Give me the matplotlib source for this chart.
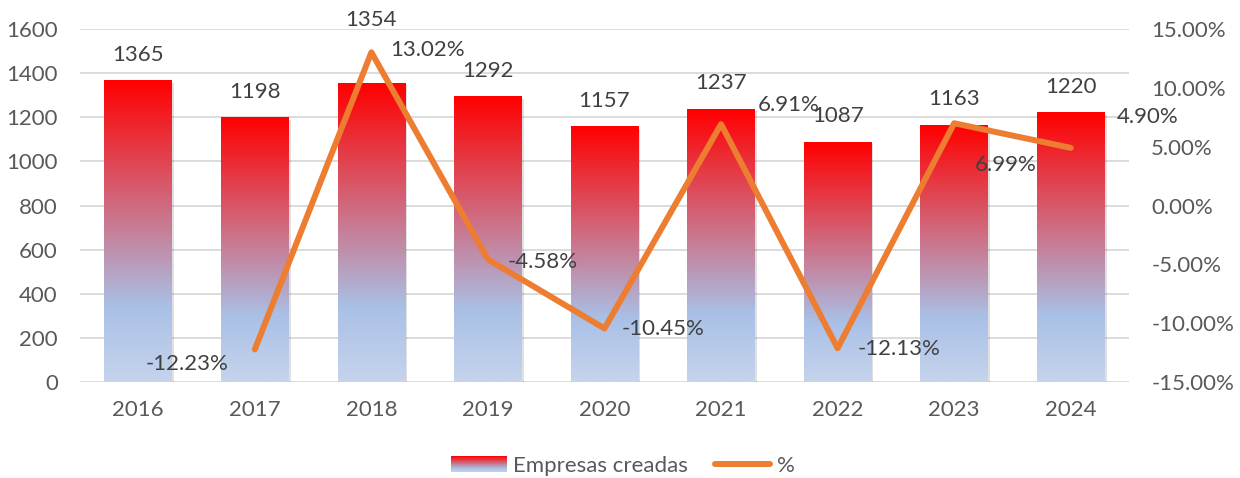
import numpy as np
import matplotlib
matplotlib.use("Agg")
import matplotlib.pyplot as plt
from matplotlib.patches import Rectangle
from matplotlib.lines import Line2D
from matplotlib.legend_handler import HandlerBase
from matplotlib.colors import LinearSegmentedColormap
import matplotlib.transforms as mtransforms

years = ["2016", "2017", "2018", "2019", "2020", "2021", "2022", "2023", "2024"]
empresas = [1365, 1198, 1354, 1292, 1157, 1237, 1087, 1163, 1220]
pct_years = ["2017", "2018", "2019", "2020", "2021", "2022", "2023", "2024"]
pct = [-12.23, 13.02, -4.58, -10.45, 6.91, -12.13, 6.99, 4.90]
left_ticks = [0, 200, 400, 600, 800, 1000, 1200, 1400, 1600]
right_ticks = [-15, -10, -5, 0, 5, 10, 15]

plt.rcParams['font.family'] = ['Lato', 'DejaVu Sans']
FS = 16

# gradient (top -> bottom)
grad_cmap = LinearSegmentedColormap.from_list(
    "g", [(0.0, "#FF0000"), (0.75, "#A9C0E6"), (1.0, "#C6D4EC")])

fig = plt.figure(figsize=(12.4, 4.78), dpi=100)
ax = fig.add_axes([80/1240, 1-382/478, (1129-80)/1240, (382-29)/478])
x = np.arange(len(years))
bw = 0.58

bars = ax.bar(x, empresas, width=bw, facecolor="none", edgecolor="none", zorder=2)
shadow_tr = mtransforms.offset_copy(ax.transData, fig=fig, x=2, y=-2, units="dots")
grad = np.linspace(0, 1, 256).reshape(-1, 1)
for b in bars:
    x0, w, h = b.get_x(), b.get_width(), b.get_height()
    ax.add_patch(Rectangle((x0, 0), w, h, facecolor="#000000", alpha=0.12,
                           edgecolor="none", transform=shadow_tr, zorder=1.5))
    ax.imshow(grad, cmap=grad_cmap, extent=[x0, x0 + w, 0, h], aspect="auto",
              origin="upper", zorder=2, interpolation="bilinear")

ax.set_xlim(-0.5, len(years) - 0.5)
ax.set_ylim(0, 1600)
ax.set_yticks(left_ticks)
ax.set_xticks(x)
ax.set_xticklabels(years)
ax.grid(axis="y", color="#D9D9D9", linewidth=1.3, zorder=0)
ax.set_axisbelow(True)
for s in ax.spines.values():
    s.set_visible(False)
ax.tick_params(axis="both", length=0, labelsize=FS, labelcolor="#595959")
ax.tick_params(axis="y", pad=16)
ax.tick_params(axis="x", pad=13)

bar_label_offsets = [26, 26, 63, 26, 26, 26, 26, 26, 26]
for xi, v, off in zip(x, empresas, bar_label_offsets):
    ax.annotate(f"{v}", (xi, v), xytext=(0, off), textcoords="offset pixels",
                ha="center", va="center", fontsize=FS, color="#404040")

ax2 = ax.twinx()
ax2.set_ylim(-15, 15)
ax2.set_yticks(right_ticks)
ax2.set_yticklabels([f"{t:.2f}%" for t in right_ticks])
for s in ax2.spines.values():
    s.set_visible(False)
ax2.tick_params(axis="y", length=0, labelsize=FS, labelcolor="#595959", pad=16)
px = [years.index(y) for y in pct_years]
ax2.plot(px, pct, color="#ED7D31", linewidth=4.3, solid_capstyle="round",
         solid_joinstyle="round", zorder=5)

pct_label_offsets = [(-68, -15), (56, 2), (55, -3), (59, -1), (68, 19),
                     (61, -1), (52, -42), (77, 31)]
for xi, v, (dx, dy) in zip(px, pct, pct_label_offsets):
    ax2.annotate(f"{v:.2f}%", (xi, v), xytext=(dx, dy), textcoords="offset pixels",
                 ha="center", va="center", fontsize=FS, color="#404040", zorder=6)


class GradientHandler(HandlerBase):
    def create_artists(self, legend, orig_handle, xdescent, ydescent, width,
                       height, fontsize, trans):
        n = 24
        arts = []
        for i in range(n):
            c = grad_cmap(1 - (i + 0.5) / n)
            r = Rectangle((-xdescent, -ydescent + height * i / n), width, height / n + 0.05,
                          facecolor=c, edgecolor="none", transform=trans)
            arts.append(r)
        return arts


bar_handle = Rectangle((0, 0), 1, 1)
line_handle = Line2D([0], [0], color="#ED7D31", linewidth=4.3, solid_capstyle="round")
leg = fig.legend([bar_handle, line_handle], ["Empresas creadas", "%"],
                 loc="center", bbox_to_anchor=(623/1240, 1-466/478), ncol=2,
                 frameon=False, fontsize=FS, handlelength=2.5, handleheight=0.75,
                 columnspacing=1.2, handletextpad=0.3,
                 handler_map={Rectangle: GradientHandler()})
for t in leg.get_texts():
    t.set_color("#595959")

fig.savefig("out.png", dpi=100)
